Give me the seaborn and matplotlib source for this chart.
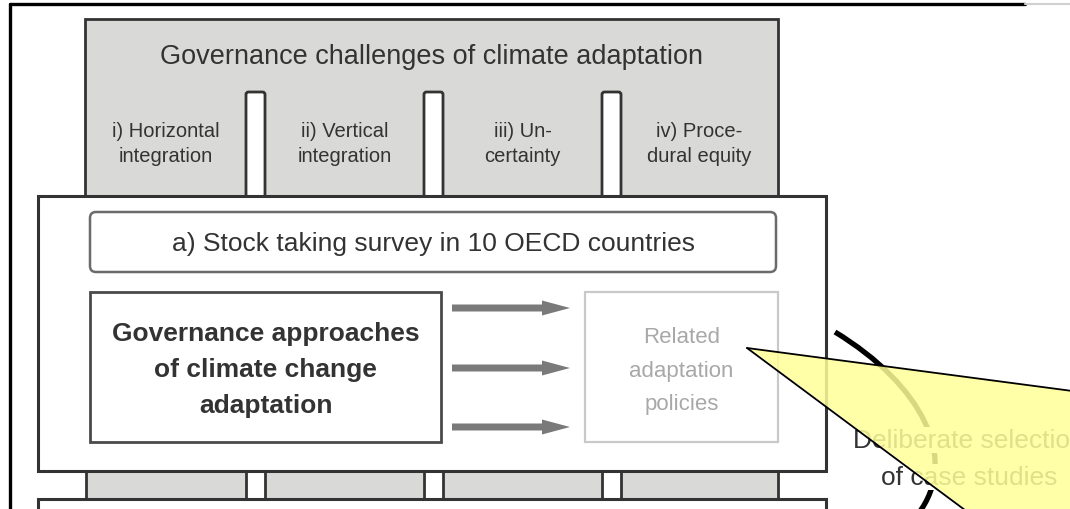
import matplotlib
matplotlib.use("Agg")
import matplotlib.pyplot as plt
import seaborn as sns
from matplotlib.patches import Rectangle, FancyBboxPatch, Polygon, PathPatch
from matplotlib.path import Path

# Diagram text
TITLE = "Governance challenges of climate adaptation"
CHALLENGES = ["i) Horizontal\nintegration", "ii) Vertical\nintegration",
              "iii) Un-\ncertainty", "iv) Proce-\ndural equity"]
SURVEY = "a) Stock taking survey in 10 OECD countries"
APPROACH_LINES = ["Governance approaches", "of climate change", "adaptation"]
POLICY_LINES = ["Related", "adaptation", "policies"]
SELECTION_LINES = ["Deliberate selection", "of case studies"]
ARROW_ROWS = [309, 369, 428]

# Layout (pixel coordinates, y grows downwards)
W, H = 1070, 510
GRAY_BOX = (85, 20, 778, 197)
MAIN_BOX = (38, 197, 826, 472)
PILLAR_X = [246, 424, 602]
PILLAR_W = 19
PILLAR_TOP = 93
BAND = (86, 472, 778, 500)
DARK = "#333333"
GRAY_FILL = "#d9d9d7"

sns.set_theme(style="white")
plt.rcParams["font.family"] = ["Liberation Sans", "DejaVu Sans"]

fig = plt.figure(figsize=(W / 100, H / 100), dpi=100)
ax = fig.add_axes([0, 0, 1, 1])
ax.set_xlim(0, W)
ax.set_ylim(H, 0)
ax.axis("off")


def rect(x0, y0, x1, y1, **kw):
    ax.add_patch(Rectangle((x0, y0), x1 - x0, y1 - y0, **kw))


# Top gray box with the four challenges
rect(*GRAY_BOX, facecolor=GRAY_FILL, edgecolor=DARK, lw=2, zorder=1)
ax.text((GRAY_BOX[0] + GRAY_BOX[2]) / 2, 57, TITLE, ha="center", va="center",
        fontsize=19.5, color=DARK, zorder=5)

edges = [GRAY_BOX[0]] + [v for x in PILLAR_X for v in (x, x + PILLAR_W)] + [GRAY_BOX[2]]
for i, label in enumerate(CHALLENGES):
    cx = (edges[2 * i] + edges[2 * i + 1]) / 2
    ax.text(cx, 144, label, ha="center", va="center", fontsize=14.5,
            color=DARK, linespacing=1.45, zorder=5)

for x in PILLAR_X:
    ax.add_patch(FancyBboxPatch((x, PILLAR_TOP), PILLAR_W, MAIN_BOX[1] + 10 - PILLAR_TOP,
                                boxstyle="round,pad=0,rounding_size=2.5",
                                facecolor="white", edgecolor=DARK, lw=2, zorder=2))

# Bottom gray band with pillars
rect(*BAND, facecolor=GRAY_FILL, edgecolor=DARK, lw=2, zorder=1)
for x in PILLAR_X:
    rect(x, BAND[1] - 2, x + PILLAR_W, BAND[3] + 2, facecolor="white",
         edgecolor=DARK, lw=2, zorder=2)

# Curved bracket on the right
curve = Path([(835, 333), (922, 386), (960, 460), (918, 515)],
             [Path.MOVETO, Path.CURVE4, Path.CURVE4, Path.CURVE4])
ax.add_patch(PathPatch(curve, facecolor="none", edgecolor="black", lw=3.8,
                       capstyle="butt", zorder=2))

# Main white box and the one below it
rect(*MAIN_BOX, facecolor="white", edgecolor=DARK, lw=2.2, zorder=3)
rect(38, 500, 826, 540, facecolor="white", edgecolor=DARK, lw=2.2, zorder=3)

# Survey box
ax.add_patch(FancyBboxPatch((90, 213), 686, 60, boxstyle="round,pad=0,rounding_size=6",
                            facecolor="white", edgecolor="#6b6b6b", lw=1.8, zorder=4))
ax.text(433, 244, SURVEY, ha="center", va="center", fontsize=19, color=DARK, zorder=5)

# Governance approaches box
rect(90, 293, 441, 443, facecolor="white", edgecolor="#4a4a4a", lw=2, zorder=4)
for y, line in zip([334, 370, 406], APPROACH_LINES):
    ax.text(265.5, y, line, ha="center", va="center", fontsize=19,
            fontweight="bold", color=DARK, zorder=5)

# Arrows
for y in ARROW_ROWS:
    ax.arrow(452, y, 118, 0, width=7, head_width=15, head_length=28,
             length_includes_head=True, color="#7a7a7a", lw=0, zorder=4)

# Related policies box
rect(585, 293, 778, 443, facecolor="white", edgecolor="#c9c9c9", lw=1.6, zorder=4)
for y, line in zip([338, 372, 405], POLICY_LINES):
    ax.text(681.5, y, line, ha="center", va="center", fontsize=16,
            color="#a8a8a8", zorder=5)

# Case selection label over the bracket
for y, line in zip([441, 478], SELECTION_LINES):
    ax.text(969, y, line, ha="center", va="center", fontsize=19, color=DARK,
            zorder=5, bbox=dict(facecolor="white", edgecolor="none", pad=1))

# Yellow callout
ax.add_patch(Polygon([(747, 349), (1080, 393), (1080, 520), (977, 520)],
                     closed=True, facecolor="#ffff99", alpha=0.85, lw=0, zorder=6))
ax.plot([747, 1080], [349, 393], color="black", lw=1.3, zorder=7)
ax.plot([747, 977], [349, 520], color="black", lw=1.3, zorder=7)

# Page frame
ax.plot([10, 1025], [5, 5], color="black", lw=2.4, zorder=8)
ax.plot([10, 10], [5, H + 5], color="black", lw=2.4, zorder=8)
ax.plot([1025, W], [5, 5], color="#d0d0d0", lw=1.5, zorder=8)

fig.savefig("out.png", dpi=100)
